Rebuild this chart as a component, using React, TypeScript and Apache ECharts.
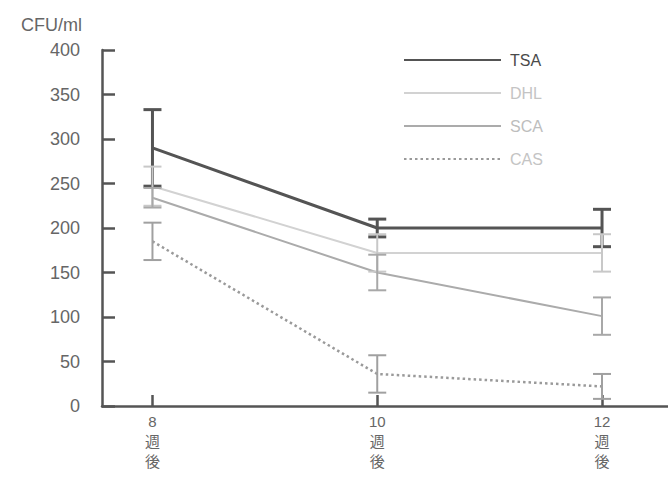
import React, { useEffect, useRef } from "react";
import * as echarts from "echarts";

const weeks = [8, 10, 12];
const seriesNames = ["TSA", "DHL", "SCA", "CAS"];
const tsa = [290, 200, 200];
const tsaErr = [43, 10, 21];
const dhl = [247, 172, 172];
const dhlErr = [22, 21, 21];
const sca = [234, 150, 101];
const scaErr = [11, 20, 21];
const cas = [185, 36, 22];
const casErr = [21, 21, 14];
const yTicks = [0, 50, 100, 150, 200, 250, 300, 350, 400];

const FONT = '"Liberation Sans", Arial, "Noto Sans CJK JP", sans-serif';

const styles = [
  { color: "#545454", width: 3, type: "solid", text: "#4a4a4a", err: "#545454", errW: 3 },
  { color: "#d2d2d2", width: 2, type: "solid", text: "#c4c4c4", err: "#c8c8c8", errW: 2 },
  { color: "#ababab", width: 2, type: "solid", text: "#bdbdbd", err: "#a8a8a8", errW: 2 },
  { color: "#9a9a9a", width: 2.5, type: [2.5, 3], text: "#c4c4c4", err: "#a0a0a0", errW: 2 },
];

const values = [tsa, dhl, sca, cas];
const errs = [tsaErr, dhlErr, scaErr, casErr];

export default function App() {
  const ref = useRef<HTMLDivElement>(null);
  useEffect(() => {
    if (!ref.current) return;
    const chart = echarts.init(ref.current, null, { renderer: "svg" });
    const lineSeries = seriesNames.map((name, i) => ({
      name,
      type: "line",
      data: weeks.map((w, j) => [w, values[i][j]]),
      symbol: "none",
      lineStyle: { color: styles[i].color, width: styles[i].width, type: styles[i].type },
      itemStyle: { color: styles[i].color },
      z: 3,
    }));
    const errSeries = seriesNames.map((name, i) => ({
      name: name + " err",
      type: "custom",
      data: weeks.map((w, j) => [w, values[i][j] - errs[i][j], values[i][j] + errs[i][j]]),
      encode: { x: 0, y: [1, 2] },
      z: 4,
      renderItem: (params: any, api: any) => {
        const x = api.value(0);
        const lo = api.value(1);
        const hi = api.value(2);
        const top = api.coord([x, hi]);
        const bot = api.coord([x, lo]);
        const hw = 9;
        const st = { stroke: styles[i].err, lineWidth: styles[i].errW };
        return {
          type: "group",
          children: [
            { type: "line", shape: { x1: top[0], y1: top[1], x2: bot[0], y2: bot[1] }, style: st },
            { type: "line", shape: { x1: top[0] - hw, y1: top[1], x2: top[0] + hw, y2: top[1] }, style: st },
            { type: "line", shape: { x1: bot[0] - hw, y1: bot[1], x2: bot[0] + hw, y2: bot[1] }, style: st },
          ],
        };
      },
    }));
    chart.setOption({
      animation: false,
      backgroundColor: "#ffffff",
      textStyle: { fontFamily: FONT },
      grid: { left: 102, right: 0, top: 50, bottom: 73 },
      legend: {
        orient: "vertical",
        left: 398,
        top: 47,
        itemWidth: 97,
        itemHeight: 14,
        itemGap: 17,
        itemStyle: { opacity: 0 },
        data: seriesNames.map((n, i) => ({
          name: n,
          textStyle: { color: styles[i].text },
        })),
        textStyle: { fontSize: 16, fontFamily: FONT, padding: [0, 0, 0, 4] },
      },
      xAxis: {
        type: "value",
        min: 7.551,
        max: 12.587,
        splitLine: { show: false },
        axisLine: { show: true, lineStyle: { color: "#555", width: 2.5 } },
        axisTick: {
          show: true,
          inside: true,
          length: 11,
          customValues: weeks,
          lineStyle: { color: "#555", width: 2.5 },
        },
        axisLabel: {
          customValues: weeks,
          formatter: (v: number) => `${v}\n週\n後`,
          color: "#666",
          fontSize: 15,
          lineHeight: 20,
          margin: 5,
          fontFamily: FONT,
        },
      },
      yAxis: {
        type: "value",
        min: 0,
        max: 400,
        interval: 50,
        name: "CFU/ml",
        nameLocation: "end",
        nameGap: 16,
        nameTextStyle: {
          color: "#666",
          fontSize: 18,
          align: "right",
          padding: [0, 20, 0, 0],
          fontFamily: FONT,
        },
        splitLine: { show: false },
        axisLine: { show: true, lineStyle: { color: "#555", width: 2.5 } },
        axisTick: { show: true, inside: true, length: 13, customValues: yTicks, lineStyle: { color: "#555", width: 2.5 } },
        axisLabel: { color: "#666", fontSize: 18, margin: 22, fontFamily: FONT },
      },
      series: [...lineSeries, ...errSeries],
    });
    return () => chart.dispose();
  }, []);
  return (
    <div
      ref={ref}
      style={{ position: "fixed", left: 0, top: 0, width: 668, height: 479 }}
    />
  );
}
